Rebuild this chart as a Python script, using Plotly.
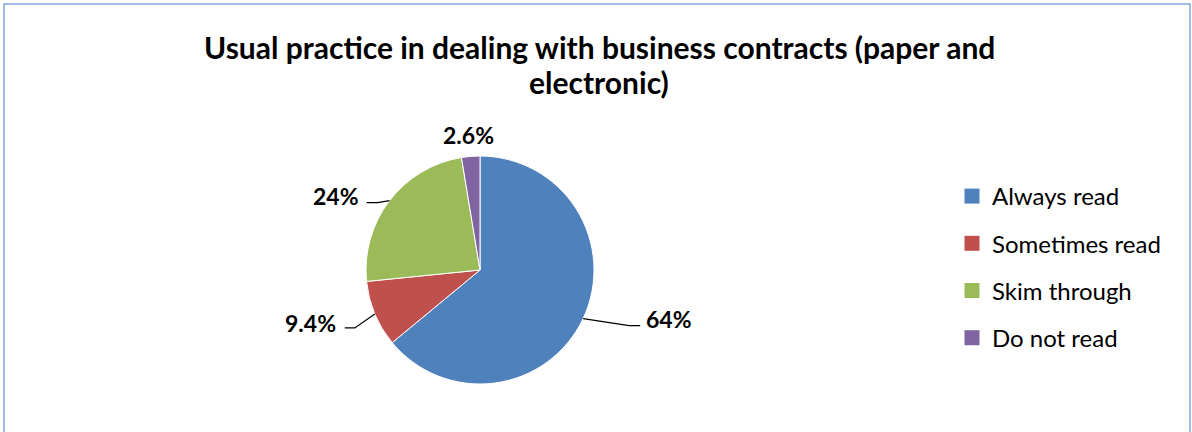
import math
import plotly.graph_objects as go

W, H = 1192, 432

categories = ["Always read", "Sometimes read", "Skim through", "Do not read"]
values = [64, 9.4, 24, 2.6]
label_texts = ["64%", "9.4%", "24%", "2.6%"]
colors = ["#4F81BD", "#C0504D", "#9BBB59", "#8064A2"]
title_lines = ["Usual practice in dealing with business contracts (paper and", "electronic)"]

# pie geometry (pixels)
CX, CY, R = 480, 270, 114

def px(x):
    return x / W

def py(y):
    return (H - y) / H

fig = go.Figure()
fig.add_trace(go.Pie(
    labels=categories, values=values, sort=False, direction="clockwise",
    rotation=0, textinfo="none", hoverinfo="label+percent",
    marker=dict(colors=colors, line=dict(color="white", width=1)),
    domain=dict(x=[px(CX - R), px(CX + R)], y=[py(CY + R), py(CY - R)]),
    showlegend=False,
))

# legend entries (square markers)
for i, (c, col) in enumerate(zip(categories, colors)):
    fig.add_trace(go.Scatter(
        x=[None], y=[None], mode="markers", name=c,
        marker=dict(symbol="square", size=15, color=col),
        legendgroup=f"g{i}", showlegend=True,
    ))

# label styling: elbow and end offsets (pixels) relative to slice edge midpoint
label_style = [
    dict(elbow=(46, 7), end=(57, 7), text_dx=4, text_dy=-7, anchor="left"),
    dict(elbow=(-20, 14), end=(-30, 14), text_dx=-7, text_dy=-5, anchor="right"),
    dict(elbow=(-12, 2), end=(-23, 2), text_dx=-5, text_dy=-7, anchor="right"),
    dict(elbow=None, end=(-2.6, -21), text_dx=0, text_dy=0, anchor="center"),
]

total = sum(values)
cum = 0.0
annotations = []
shapes = []
for v, t, st in zip(values, label_texts, label_style):
    mid = (cum + v / 2) / total
    cum += v
    ang = 2 * math.pi * mid
    ex = CX + R * math.sin(ang)
    ey = CY - R * math.cos(ang)
    tx = ex + st["end"][0] + st["text_dx"]
    ty = ey + st["end"][1] + st["text_dy"]
    if st["elbow"] is not None:
        bx, by = ex + st["elbow"][0], ey + st["elbow"][1]
        nx, ny = ex + st["end"][0], ey + st["end"][1]
        shapes.append(dict(
            type="path", xref="paper", yref="paper",
            path=f"M {px(ex)},{py(ey)} L {px(bx)},{py(by)} L {px(nx)},{py(ny)}",
            line=dict(color="black", width=1.2),
        ))
    annotations.append(dict(
        text=f"<b>{t}</b>", x=px(tx), y=py(ty), xref="paper", yref="paper",
        xanchor=st["anchor"], yanchor="middle", showarrow=False,
        font=dict(family="Lato", size=23, color="black"),
    ))

# title lines
for line, yc in zip(title_lines, [47, 82]):
    annotations.append(dict(
        text=f"<b>{line}</b>", x=px(599), y=py(yc), xref="paper", yref="paper",
        xanchor="center", yanchor="middle", showarrow=False,
        font=dict(family="Lato", size=30, color="black"),
    ))

# chart border
shapes.append(dict(
    type="rect", xref="paper", yref="paper",
    x0=px(4), x1=px(1190), y0=py(440), y1=py(4),
    line=dict(color="#7FA7DC", width=1.5), fillcolor="rgba(0,0,0,0)",
))

fig.update_layout(
    width=W, height=H,
    margin=dict(l=0, r=0, t=0, b=0),
    paper_bgcolor="white", plot_bgcolor="white",
    xaxis=dict(visible=False),
    yaxis=dict(visible=False),
    legend=dict(
        x=px(952), xanchor="left", y=py(174), yanchor="top",
        font=dict(family="Lato", size=24, color="black"),
        tracegroupgap=13, itemclick=False, bgcolor="rgba(0,0,0,0)",
    ),
    annotations=annotations,
    shapes=shapes,
)

fig.write_html("out.html")
